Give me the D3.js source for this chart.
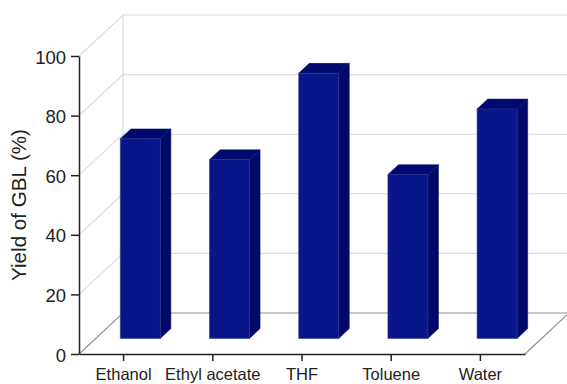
<!DOCTYPE html>
<html>
<head>
<meta charset="utf-8">
<script src="https://cdn.jsdelivr.net/npm/d3@7"></script>
<style>
html,body{margin:0;padding:0;background:#fff}
svg{display:block}
text{font-family:"Liberation Sans",Arial,sans-serif;fill:#222}
</style>
</head>
<body>
<svg id="chart" width="567" height="384"></svg>
<script>
// Solvent screening: yield of GBL per solvent
const solvents = ["Ethanol", "Ethyl acetate", "THF", "Toluene", "Water"];
const yields = [67, 60, 89, 55, 77];
const yTicks = [0, 20, 40, 60, 80, 100];

const svg = d3.select("#chart");

// Oblique projection: a point is (category position, value, depth 0..1)
const frame = {left: 79, right: 525, top: 56, bottom: 354, depthX: 44, depthY: -41};
const x = d3.scaleBand().domain(solvents).range([frame.left, frame.right]);
const y = d3.scaleLinear().domain([0, 100]).range([frame.bottom, frame.top]);
const dx = d3.scaleLinear().domain([0, 1]).range([0, frame.depthX]);
const dy = d3.scaleLinear().domain([0, 1]).range([0, frame.depthY]);
const project = (px, v, d) => [px + dx(d), y(v) + dy(d)];
const line = d3.line();

// Depth span and width of each column inside its category slot
const barFront = 0.38, barBack = 0.62, barWidth = 40;

// Back wall and left wall gridlines
const walls = svg.append("g").attr("fill", "none");
yTicks.forEach(t => {
  const grey = t === 0 ? "#8f8f8f" : "#d9d9d9";
  walls.append("path")
    .attr("d", line([project(frame.left, t, 0), project(frame.left, t, 1), project(frame.right + 30, t, 1)]))
    .attr("stroke", grey).attr("stroke-width", 1.1);
});
walls.append("path")
  .attr("d", line([project(frame.left, 0, 1), project(frame.left, 100, 1)]))
  .attr("stroke", "#d9d9d9").attr("stroke-width", 1.1);
walls.append("path")
  .attr("d", line([project(frame.right, 0, 0), project(frame.right, 0, 1)]))
  .attr("stroke", "#8f8f8f").attr("stroke-width", 1.1);

// Columns: front, top and side faces
const bars = svg.append("g").selectAll("g")
  .data(solvents.map((s, i) => ({s, v: yields[i]})))
  .join("g");

const centre = d => x(d.s) + x.bandwidth() / 2;
const corner = (d, side, v, depth) => project(centre(d) + side * barWidth / 2, v, depth);
const face = pts => line(pts) + "Z";

bars.append("path")
  .attr("fill", "#000a6e").attr("stroke", "#000a6e").attr("stroke-width", 0.5)
  .attr("d", d => face([corner(d, -1, d.v, barFront), corner(d, -1, d.v, barBack), corner(d, 1, d.v, barBack), corner(d, 1, d.v, barFront)]));
bars.append("path")
  .attr("fill", "#000868").attr("stroke", "#000868").attr("stroke-width", 0.5)
  .attr("d", d => face([corner(d, 1, 0, barFront), corner(d, 1, 0, barBack), corner(d, 1, d.v, barBack), corner(d, 1, d.v, barFront)]));
bars.append("path")
  .attr("fill", "#08168a").attr("stroke", "#2a3590").attr("stroke-width", 0.6)
  .attr("d", d => face([corner(d, -1, 0, barFront), corner(d, 1, 0, barFront), corner(d, 1, d.v, barFront), corner(d, -1, d.v, barFront)]));

// Value axis
const yAxis = svg.append("g")
  .attr("transform", `translate(${frame.left},0)`)
  .call(d3.axisLeft(y).tickValues(yTicks).tickSize(8).tickPadding(5).tickSizeOuter(0));
yAxis.selectAll("line, path").attr("stroke", "#222").attr("stroke-width", 1.5);
yAxis.selectAll("text").style("font-size", "18.5px").attr("dy", "0.38em");

// Category axis
const xAxis = svg.append("g")
  .attr("transform", `translate(0,${frame.bottom})`)
  .call(d3.axisBottom(x).tickSize(7).tickPadding(7).tickSizeOuter(0));
xAxis.selectAll("line, path").attr("stroke", "#222").attr("stroke-width", 1.5);
xAxis.selectAll("text").style("font-size", "16.5px");

svg.append("text")
  .attr("transform", "translate(26,205) rotate(-90)")
  .attr("text-anchor", "middle")
  .style("font-size", "20.6px")
  .text("Yield of GBL (%)");
</script>
</body>
</html>
